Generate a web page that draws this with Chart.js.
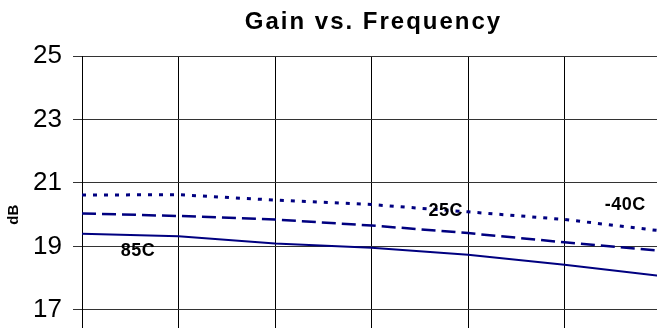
<!DOCTYPE html>
<html>
<head>
<meta charset="utf-8">
<script src="https://cdn.jsdelivr.net/npm/chart.js@4/dist/chart.umd.min.js"></script>
<style>
  html, body { margin: 0; padding: 0; background: #fff; overflow: hidden; }
  #wrap { width: 657px; height: 328px; overflow: hidden; position: relative; }
  #box { width: 700px; height: 400px; position: absolute; left: 0; top: 0; }
</style>
</head>
<body>
<div id="wrap"><div id="box"><canvas id="grafico"></canvas></div></div>
<script>
// positions along the frequency axis (gridline steps, labels are cut off in the picture)
const freqSteps = [0, 1, 2, 3, 4, 5, 6];
const gainMinus40 = [20.62, 20.63, 20.46, 20.32, 20.09, 19.85, 19.49];
const gain25 = [20.04, 19.96, 19.85, 19.66, 19.42, 19.13, 18.86];
const gain85 = [19.40, 19.32, 19.09, 18.96, 18.74, 18.42, 18.07];
const yTicks = [15, 17, 19, 21, 23, 25];

// curve labels placed in data units
const curveLabels = [
  { text: '85C', x: 0.58, y: 18.87 },
  { text: '25C', x: 3.77, y: 20.11 },
  { text: '-40C', x: 5.63, y: 20.30 }
];

const toPoints = (values) => values.map((v, i) => ({ x: freqSteps[i], y: v }));

const textPlugin = {
  id: 'textPlugin',
  afterDraw: (chart) => {
    const { ctx, chartArea, scales } = chart;
    ctx.save();
    ctx.fillStyle = '#000';
    ctx.textAlign = 'center';
    ctx.textBaseline = 'middle';
    ctx.letterSpacing = '2px';
    ctx.font = 'bold 24px "Liberation Sans", Arial, sans-serif';
    ctx.fillText('Gain vs. Frequency', (chartArea.left + chartArea.right) / 2 + 2, 22);
    ctx.letterSpacing = '0.5px';
    ctx.font = 'bold 18px "Liberation Sans", Arial, sans-serif';
    curveLabels.forEach(l => {
      ctx.fillText(l.text, scales.x.getPixelForValue(l.x), scales.y.getPixelForValue(l.y));
    });
    ctx.restore();
  }
};

const navy = '#000080';

new Chart(document.getElementById('grafico'), {
  type: 'line',
  data: {
    datasets: [
      {
        label: '-40C',
        data: toPoints(gainMinus40),
        borderColor: navy,
        borderWidth: 3,
        borderDash: [4, 7],
        pointRadius: 0,
        tension: 0
      },
      {
        label: '25C',
        data: toPoints(gain25),
        borderColor: navy,
        borderWidth: 2.5,
        borderDash: [14, 6],
        pointRadius: 0,
        tension: 0
      },
      {
        label: '85C',
        data: toPoints(gain85),
        borderColor: navy,
        borderWidth: 2,
        pointRadius: 0,
        tension: 0
      }
    ]
  },
  options: {
    responsive: true,
    maintainAspectRatio: false,
    animation: false,
    layout: { padding: { top: 56, right: 39, bottom: 9, left: 0 } },
    plugins: {
      legend: { display: false },
      title: { display: false },
      tooltip: { enabled: false }
    },
    scales: {
      x: {
        type: 'linear',
        min: 0,
        max: 6,
        ticks: { display: false, stepSize: 1 },
        grid: { color: '#000', lineWidth: 1, drawTicks: false },
        border: { display: false }
      },
      y: {
        min: 15,
        max: 25,
        afterFit: (scale) => { scale.width = 82; },
        afterBuildTicks: (scale) => { scale.ticks = yTicks.map(v => ({ value: v })); },
        ticks: {
          color: '#000',
          padding: 11,
          font: { family: '"Liberation Sans", Arial, sans-serif', size: 26 }
        },
        grid: { color: '#333', lineWidth: 1, tickLength: 9 },
        border: { color: '#000', width: 1 },
        title: {
          display: true,
          text: 'dB',
          color: '#000',
          padding: { top: 5, bottom: 0 },
          font: { family: '"Liberation Sans", Arial, sans-serif', size: 15, weight: 'bold' }
        }
      }
    }
  },
  plugins: [textPlugin]
});
</script>
</body>
</html>
